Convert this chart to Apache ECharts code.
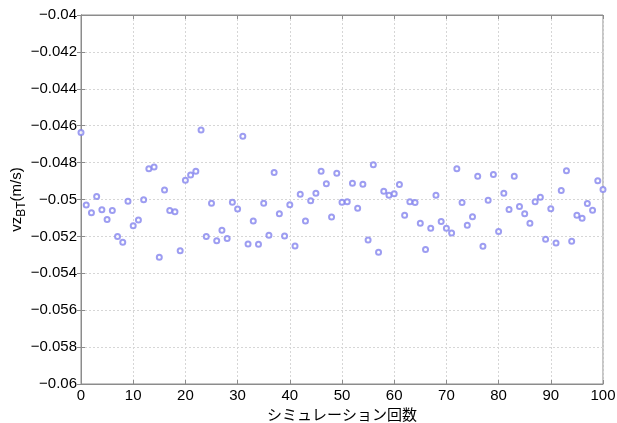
<!DOCTYPE html>
<html>
<head>
<meta charset="utf-8">
<script src="https://cdn.jsdelivr.net/npm/echarts@6/dist/echarts.min.js"></script>
<style>
  html, body { margin: 0; padding: 0; background: #fff; }
  #chart { width: 617px; height: 423px; }
</style>
</head>
<body>
<div id="chart"></div>
<script>
// vz_BT per simulation run (run number = array index, 0..100)
const vzValues = [
  -0.04637, -0.0503, -0.05072, -0.04984, -0.05056, -0.05108, -0.0506, -0.05201, -0.05232, -0.05009,
  -0.05142, -0.05111, -0.05002, -0.04833, -0.04824, -0.05313, -0.04948, -0.0506, -0.05066, -0.05278,
  -0.04896, -0.04867, -0.04847, -0.04623, -0.05201, -0.0502, -0.05223, -0.05167, -0.05212, -0.05015,
  -0.05052, -0.04657, -0.05241, -0.05117, -0.05243, -0.0502, -0.05194, -0.04854, -0.05077, -0.05198,
  -0.05029, -0.05252, -0.04971, -0.05117, -0.05007, -0.04966, -0.04847, -0.04915, -0.05095, -0.04858,
  -0.05015, -0.05012, -0.04912, -0.05047, -0.04918, -0.05219, -0.04811, -0.05286, -0.04955, -0.04977,
  -0.04969, -0.04919, -0.05085, -0.05012, -0.05016, -0.05129, -0.05271, -0.05156, -0.04977, -0.05119,
  -0.05156, -0.05182, -0.04833, -0.05016, -0.05139, -0.05093, -0.04874, -0.05253, -0.05004, -0.04864,
  -0.05173, -0.04966, -0.05054, -0.04874, -0.05038, -0.05077, -0.05129, -0.05012, -0.04988, -0.05216,
  -0.0505, -0.05236, -0.04951, -0.04844, -0.05226, -0.05085, -0.05101, -0.05022, -0.05058, -0.04898,
  -0.04946
];
const xTicks = { min: 0, max: 100, step: 10 };
const yTicks = { min: -0.06, max: -0.04, step: 0.002 };
const xName = 'シミュレーション回数';

const points = vzValues.map((v, i) => [i, v]);

const axisGrey = '#8c8c8c';
const fontFam = 'Liberation Sans, Arial, sans-serif';

const mychart = echarts.init(document.getElementById('chart'));
mychart.setOption({
  animation: false,
  backgroundColor: '#fff',
  grid: {
    left: 81, right: 14, top: 15, bottom: 39,
    outerBoundsMode: 'none',
    containLabel: false,
    show: true, borderColor: axisGrey, borderWidth: 1
  },
  xAxis: [
    {
      type: 'value',
      min: xTicks.min, max: xTicks.max, interval: xTicks.step,
      name: xName,
      nameLocation: 'middle',
      nameGap: 23,
      nameMoveOverlap: false,
      nameTextStyle: { color: '#000', fontSize: 15, fontFamily: 'Noto Sans CJK JP' },
      axisLine: { show: true, onZero: false, lineStyle: { color: axisGrey } },
      axisTick: { show: true, inside: true, length: 4, lineStyle: { color: axisGrey } },
      axisLabel: { color: '#000', fontSize: 15, fontFamily: fontFam, margin: 4 },
      splitLine: { show: true, lineStyle: { color: '#d6d6d6', type: [2, 2] } }
    },
    {
      type: 'value', position: 'top',
      min: xTicks.min, max: xTicks.max, interval: xTicks.step,
      axisLine: { show: true, lineStyle: { color: axisGrey } },
      axisTick: { show: true, inside: true, length: 4, lineStyle: { color: axisGrey } },
      axisLabel: { show: false },
      splitLine: { show: false }
    }
  ],
  yAxis: [
    {
      type: 'value',
      min: yTicks.min, max: yTicks.max, interval: yTicks.step,
      name: '{a|vz}{b|BT}{a|(m/s)}',
      nameLocation: 'middle',
      nameGap: 56,
      nameMoveOverlap: false,
      nameRotate: 90,
      nameTextStyle: {
        color: '#000',
        rich: {
          a: { fontSize: 15, fontFamily: fontFam, color: '#000', lineHeight: 16 },
          b: { fontSize: 12, fontFamily: fontFam, color: '#000', lineHeight: 12, padding: [9, 0, 0, 0] }
        }
      },
      axisLine: { show: true, onZero: false, lineStyle: { color: axisGrey } },
      axisTick: { show: true, inside: true, length: 4, lineStyle: { color: axisGrey } },
      axisLabel: {
        color: '#000', fontSize: 15, fontFamily: fontFam, margin: 4,
        formatter: v => String(Number(v.toFixed(3))).replace('-', '\u2212')
      },
      splitLine: { show: true, lineStyle: { color: '#d6d6d6', type: [2, 2] } }
    },
    {
      type: 'value', position: 'right',
      min: yTicks.min, max: yTicks.max, interval: yTicks.step,
      axisLine: { show: true, lineStyle: { color: axisGrey } },
      axisTick: { show: true, inside: true, length: 4, lineStyle: { color: axisGrey } },
      axisLabel: { show: false },
      splitLine: { show: false }
    }
  ],
  series: [
    {
      type: 'scatter',
      data: points,
      symbol: 'emptyCircle',
      symbolSize: 5,
      itemStyle: { color: '#8484ee', borderColor: '#8484ee', borderWidth: 0.7 }
    }
  ]
});
</script>
</body>
</html>
